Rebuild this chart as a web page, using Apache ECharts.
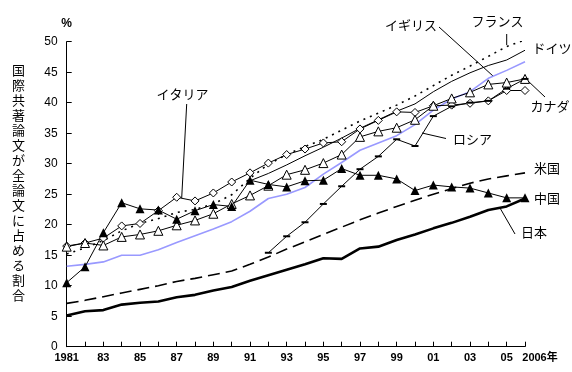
<!DOCTYPE html>
<html><head><meta charset="utf-8">
<script src="https://cdn.jsdelivr.net/npm/echarts@6/dist/echarts.min.js"></script>
<style>html,body{margin:0;padding:0;background:#fff}#c{width:572px;height:372px}</style>
</head><body><div id="c"></div>
<script>
const years = ['1981','1982','1983','1984','1985','1986','1987','1988','1989','1990','1991','1992','1993','1994','1995','1996','1997','1998','1999','2000','2001','2002','2003','2004','2005','2006'];
const tickLabels = ['1981','82','83','84','85','86','87','88','89','90','91','92','93','94','95','96','97','98','99','00','01','02','03','04','05','2006年'];
const japan  = [5.1,5.8,6.0,6.9,7.2,7.4,8.1,8.5,9.2,9.8,10.8,11.7,12.6,13.5,14.5,14.4,16.1,16.4,17.5,18.4,19.4,20.3,21.3,22.4,23.0,24.3];
const usa    = [7.1,7.6,8.2,8.8,9.4,10.0,10.7,11.2,11.8,12.4,13.5,14.7,16.0,17.2,18.4,19.6,20.8,21.9,23.0,24.0,25.0,25.9,26.8,27.5,28.0,28.5];
const china  = [10.5,13.1,18.7,23.6,22.6,22.4,20.9,22.3,23.3,23.0,27.3,26.6,26.2,27.2,27.3,29.2,28.1,28.1,27.5,25.6,26.5,26.2,26.0,25.2,24.4,24.4];
const russia = [null,null,null,null,null,null,null,null,null,null,null,15.4,18.1,20.4,23.4,26.3,29.1,31.2,34.0,32.9,37.8,39.4,40.0,40.3,42.3,43.9];
const italy  = [16.5,17.0,17.8,19.8,20.2,22.3,24.5,23.9,25.2,27.0,28.5,30.1,31.5,32.4,33.4,33.6,35.7,37.1,38.5,38.4,39.5,39.6,39.9,40.3,42.0,42.0];
const canada = [16.4,17.0,16.6,18.0,18.4,19.0,19.9,20.7,21.8,23.4,24.8,26.4,28.2,29.0,30.1,31.5,34.4,35.3,35.9,37.2,39.5,40.7,41.7,43.0,43.3,43.9];
const uk     = [13.2,13.5,13.9,15.0,15.0,15.9,17.1,18.2,19.3,20.5,22.2,24.3,25.0,26.1,28.3,30.2,32.2,33.4,34.6,36.4,38.8,40.6,41.8,44.0,45.3,46.7];
const germany= [null,null,null,null,null,null,null,null,null,null,27.2,28.4,29.8,31.3,32.7,34.2,35.8,37.2,38.6,39.8,41.8,43.5,44.9,46.1,47.0,48.6];
const france = [15.2,16.2,17.4,19.0,20.2,21.0,22.0,22.5,23.4,24.9,27.6,29.9,31.5,32.8,34.0,35.5,37.0,38.3,39.6,41.1,42.8,44.5,46.0,47.6,49.2,50.3];
const yTitle = '国際共著論文が全論文に占める割合';

const NUM = '"Liberation Sans", Arial, sans-serif';
const JP = '"Noto Sans CJK JP", sans-serif';

const chart = echarts.init(document.getElementById('c'), null, {renderer:'canvas'});
function line(name, data, ls, extra){
  return Object.assign({name, type:'line', data, symbol:'none', showSymbol:false, lineStyle:ls, itemStyle:{color:ls.color||'#000'}, animation:false}, extra||{});
}
const openMark = {color:'#fff', borderColor:'#000', borderWidth:1};
const series = [
  line('イギリス', uk, {color:'#9999ff', width:1.6}),
  line('フランス', france, {color:'#000', width:1.6, type:[2,5]}),
  line('ドイツ', germany, {color:'#000', width:1}),
  line('イタリア', italy, {color:'#000', width:1}, {symbol:'diamond', showSymbol:true, symbolSize:8, itemStyle:openMark}),
  line('カナダ', canada, {color:'#000', width:1}, {symbol:'triangle', showSymbol:true, symbolSize:9, itemStyle:openMark}),
  line('ロシア', russia, {color:'#000', width:1}, {symbol:'rect', showSymbol:true, symbolSize:[7,2], itemStyle:{color:'#000'}}),
  line('中国', china, {color:'#000', width:1}, {symbol:'triangle', showSymbol:true, symbolSize:9, itemStyle:{color:'#000'}}),
  line('米国', usa, {color:'#000', width:1.6, type:[12,6]}),
  line('日本', japan, {color:'#000', width:2.6})
];

const txt = (x, y, s, extra) => Object.assign({type:'text', x, y, style:{text:s, font:'13px ' + JP, fill:'#000', align:'center', verticalAlign:'middle'}}, extra||{});
const ln = (x1,y1,x2,y2) => ({type:'line', shape:{x1,y1,x2,y2}, style:{stroke:'#000', lineWidth:1}});

chart.setOption({
  animation:false,
  backgroundColor:'#fff',
  grid:{left:66.7, right:47, top:41.7, bottom:25.3, containLabel:false},
  xAxis:{
    type:'category', data:years, boundaryGap:false,
    axisLine:{lineStyle:{color:'#000', width:1}},
    axisTick:{inside:true, length:5, interval:0, lineStyle:{color:'#000'}},
    axisLabel:{
      interval:(i)=> i%2===0 || i===25,
      formatter:(v,i)=> i===25 ? '{last|'+tickLabels[i]+'}' : tickLabels[i],
      color:'#000', fontSize:11, fontFamily:NUM, fontWeight:'bold', margin:6,
      rich:{last:{padding:[0,0,0,30], fontSize:11, fontWeight:'bold', fontFamily:'"Liberation Sans", "Noto Sans CJK JP", sans-serif', color:'#000'}}
    },
    splitLine:{show:false}
  },
  yAxis:{
    type:'value', min:0, max:50, interval:5,
    name:'%', nameLocation:'end', nameGap:12,
    nameTextStyle:{color:'#000', fontSize:12, fontFamily:NUM, fontWeight:'bold', align:'center'},
    axisLine:{show:true, lineStyle:{color:'#000', width:1}},
    axisTick:{show:true, inside:true, length:5, lineStyle:{color:'#000'}},
    axisLabel:{color:'#000', fontSize:12, fontFamily:NUM, margin:9},
    splitLine:{show:false}
  },
  series,
  graphic:[
    {type:'text', x:18.5, y:183, style:{text:yTitle.split('').join('\n'), font:'13px ' + JP, lineHeight:15.0, fill:'#000', align:'center', verticalAlign:'middle'}},
    txt(182.5, 94, 'イタリア'),
    ln(186.7, 104, 181.7, 198),
    txt(411, 25, 'イギリス'),
    ln(439, 27, 493, 76),
    txt(497.5, 21.5, 'フランス'),
    ln(506.7, 34, 506.7, 45),
    txt(552, 48, 'ドイツ'),
    txt(550, 106, 'カナダ'),
    ln(527, 80, 545, 97),
    txt(472.5, 139, 'ロシア'),
    ln(422, 133, 446, 138.5),
    txt(547, 168, '米国'),
    txt(547, 198, '中国'),
    txt(534, 232, '日本'),
    ln(500, 208, 515, 234)
  ]
});
</script></body></html>
